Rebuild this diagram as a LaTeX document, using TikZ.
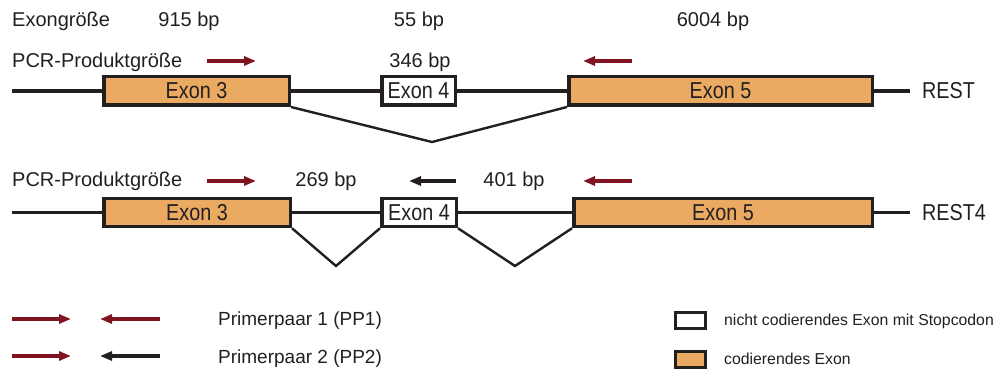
\documentclass[tikz,border=0pt]{standalone}
\usepackage{fontspec}
\setmainfont{Liberation Sans}
\usetikzlibrary{arrows.meta}
\definecolor{txt}{RGB}{35,31,32}
\definecolor{prim}{RGB}{128,21,34}
\definecolor{exfill}{RGB}{235,170,98}
\newcommand{\exlabelfont}{\fontsize{23}{26}\selectfont}
\newcommand{\narrowtxt}[1]{\scalebox{0.86}[1]{#1}}
\begin{document}
\begin{tikzpicture}[x=1pt,y=-1pt,
  every node/.style={text=txt, inner sep=0pt, font=\fontsize{20}{22}\selectfont},
  lbl/.style={anchor=base},
  lblw/.style={anchor=base west},
  small/.style={anchor=base west, font=\fontsize{15.8}{18}\selectfont},
  exon/.style={draw=txt, line width=3.5pt, inner sep=0pt, anchor=center, font=\exlabelfont},
  coding/.style={exon, fill=exfill},
  noncoding/.style={exon, fill=white},
  gene/.style={draw=txt, line width=3.2pt},
  splice/.style={draw=txt, line width=2.4pt, line join=miter},
  primer/.style={line width=3.2pt, -{Triangle[length=12pt,width=9pt]}},
  fwd/.style={primer, draw=prim, fill=prim},
  rev/.style={primer, draw=prim, fill=prim},
  revb/.style={primer, draw=txt, fill=txt},
  legbox/.style={draw=txt, line width=3pt, minimum width=30pt, minimum height=16pt, inner sep=0pt},
  genename/.style={anchor=west, font=\exlabelfont}
]
\useasboundingbox (0,0) rectangle (995,371);

% header labels
\node[lblw] (hexon) at (12,27) {Exongröße};
\node[lbl] (s3) at (189,27) {915 bp};
\node[lbl] (s4) at (419,27) {55 bp};
\node[lbl] (s5) at (713,27) {6004 bp};

% ---------- REST ----------
\node[lblw] (pcr1) at (12,68) {PCR-Produktgröße};
\node[lbl] (p346) at (420,68) {346 bp};
\coordinate (f1a) at (207,61); \coordinate (f1b) at (256,61);
\coordinate (r1a) at (632,61); \coordinate (r1b) at (583,61);
\draw[fwd] (f1a) -- (f1b);
\draw[rev] (r1a) -- (r1b);

\coordinate (g1l) at (12,91);
\coordinate (g1r) at (910,91);
\node[coding, minimum width=185.5pt, minimum height=28.5pt] (a3) at (196.5,91) {\narrowtxt{Exon 3}};
\node[noncoding, minimum width=73.5pt, minimum height=28.5pt] (a4) at (418.5,91) {\narrowtxt{Exon 4}};
\node[coding, minimum width=303.5pt, minimum height=28.5pt] (a5) at (720.5,91) {\narrowtxt{Exon 5}};
\draw[gene] (g1l) -- (a3.west);
\draw[gene] (a3.east) -- (a4.west);
\draw[gene] (a4.east) -- (a5.west);
\draw[gene] (a5.east) -- (g1r);
\node[genename] (rest) at (922,91) {\narrowtxt{REST}};
\coordinate (v1) at (432,142);
\draw[splice] (a3.south east) -- (v1) -- (a5.south west);

% ---------- REST4 ----------
\node[lblw] (pcr2) at (12,187) {PCR-Produktgröße};
\node[lbl] (p269) at (326,187) {269 bp};
\node[lbl] (p401) at (514,187) {401 bp};
\coordinate (f2a) at (207,181); \coordinate (f2b) at (256,181);
\coordinate (b2a) at (456,181); \coordinate (b2b) at (409,181);
\coordinate (r2a) at (632,181); \coordinate (r2b) at (583,181);
\draw[fwd] (f2a) -- (f2b);
\draw[revb] (b2a) -- (b2b);
\draw[rev] (r2a) -- (r2b);

\coordinate (g2l) at (12,212.5);
\coordinate (g2r) at (910,212.5);
\node[coding, minimum width=186.5pt, minimum height=28pt] (b3) at (197,212.5) {\narrowtxt{Exon 3}};
\node[noncoding, minimum width=74.5pt, minimum height=28pt] (b4) at (419,212.5) {\narrowtxt{Exon 4}};
\node[coding, minimum width=298.5pt, minimum height=28pt] (b5) at (723,212.5) {\narrowtxt{Exon 5}};
\draw[gene] (g2l) -- (b3.west);
\draw[gene] (b3.east) -- (b4.west);
\draw[gene] (b4.east) -- (b5.west);
\draw[gene] (b5.east) -- (g2r);
\node[genename] (rest4) at (922,212.5) {\narrowtxt{REST4}};
\coordinate (v2) at (336,266);
\coordinate (v3) at (515,266);
\draw[splice] (b3.south east) -- (v2) -- (b4.south west);
\draw[splice] (b4.south east) -- (v3) -- (b5.south west);

% ---------- legend ----------
\coordinate (l1a) at (12,319); \coordinate (l1b) at (71,319);
\coordinate (l1c) at (160,319); \coordinate (l1d) at (100,319);
\coordinate (l2a) at (12,356); \coordinate (l2b) at (71,356);
\coordinate (l2c) at (160,356); \coordinate (l2d) at (100,356);
\draw[fwd] (l1a) -- (l1b);
\draw[rev] (l1c) -- (l1d);
\draw[fwd] (l2a) -- (l2b);
\draw[revb] (l2c) -- (l2d);
\node[lblw, font=\fontsize{19}{22}\selectfont] (pp1) at (218,325.5) {Primerpaar 1 (PP1)};
\node[lblw, font=\fontsize{19}{22}\selectfont] (pp2) at (218,363) {Primerpaar 2 (PP2)};

\node[legbox, fill=white] (lw) at (690.5,320) {};
\node[legbox, fill=exfill] (lo) at (690.5,359.5) {};
\node[small] (tw) at (724,325.5) {nicht codierendes Exon mit Stopcodon};
\node[small] (to) at (724,364) {codierendes Exon};
\end{tikzpicture}
\end{document}
